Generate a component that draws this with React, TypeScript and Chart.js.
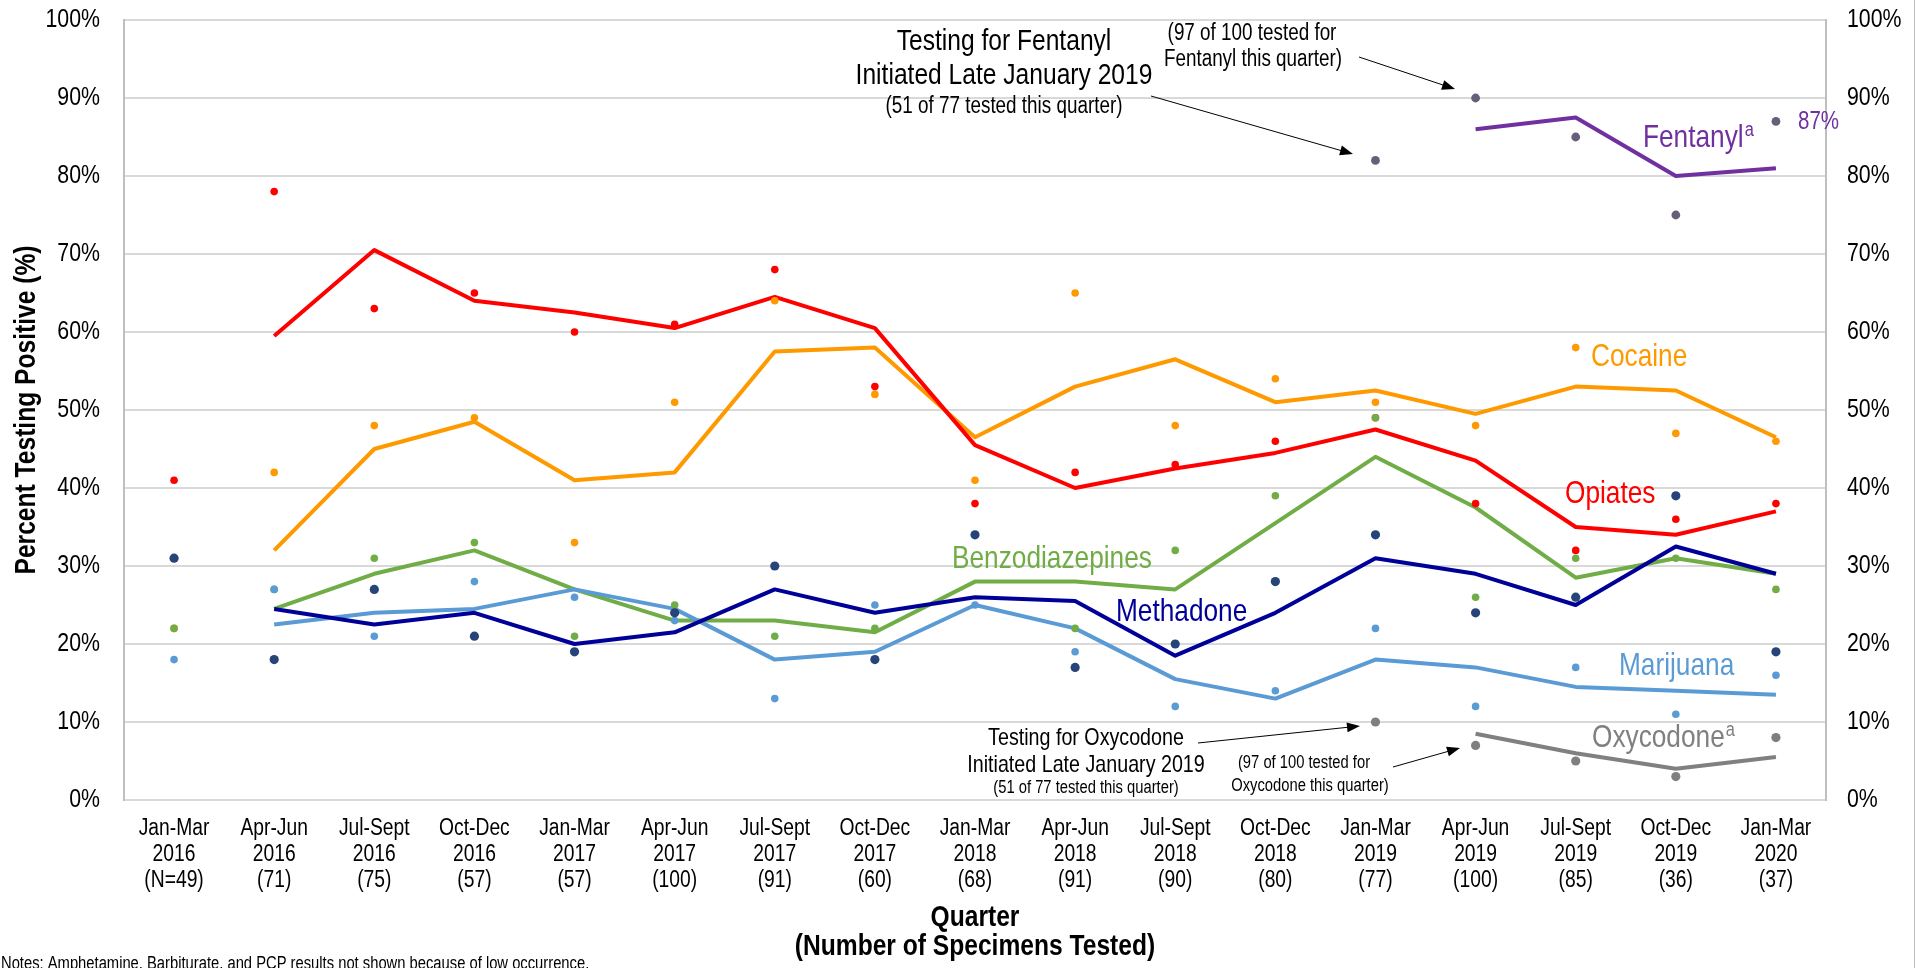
import React, { useEffect, useRef } from "react";
import { Chart, registerables } from "chart.js";

Chart.register(...registerables);

// ---------- DATA ----------
const quarterNames = ["Jan-Mar", "Apr-Jun", "Jul-Sept", "Oct-Dec", "Jan-Mar", "Apr-Jun", "Jul-Sept", "Oct-Dec", "Jan-Mar", "Apr-Jun", "Jul-Sept", "Oct-Dec", "Jan-Mar", "Apr-Jun", "Jul-Sept", "Oct-Dec", "Jan-Mar"];
const quarterYears = ["2016", "2016", "2016", "2016", "2017", "2017", "2017", "2017", "2018", "2018", "2018", "2018", "2019", "2019", "2019", "2019", "2020"];
const specimenCounts = ["(N=49)", "(71)", "(75)", "(57)", "(57)", "(100)", "(91)", "(60)", "(68)", "(91)", "(90)", "(80)", "(77)", "(100)", "(85)", "(36)", "(37)"];
const yTickValues = [0, 10, 20, 30, 40, 50, 60, 70, 80, 90, 100];

const opiatesPts = [41, 78, 63, 65, 60, 61, 68, 53, 38, 42, 43, 46, 49, 38, 32, 36, 38];
const opiatesAvg = [null, 59.5, 70.5, 64, 62.5, 60.5, 64.5, 60.5, 45.5, 40, 42.5, 44.5, 47.5, 43.5, 35, 34, 37];
const cocainePts = [22, 42, 48, 49, 33, 51, 64, 52, 41, 65, 48, 54, 51, 48, 58, 47, 46];
const cocaineAvg = [null, 32, 45, 48.5, 41, 42, 57.5, 58, 46.5, 53, 56.5, 51, 52.5, 49.5, 53, 52.5, 46.5];
const benzoPts = [22, 27, 31, 33, 21, 25, 21, 22, 34, 22, 32, 39, 49, 26, 31, 31, 27];
const benzoAvg = [null, 24.5, 29, 32, 27, 23, 23, 21.5, 28, 28, 27, 35.5, 44, 37.5, 28.5, 31, 29];
const methadonePts = [31, 18, 27, 21, 19, 24, 30, 18, 34, 17, 20, 28, 34, 24, 26, 39, 19];
const methadoneAvg = [null, 24.5, 22.5, 24, 20, 21.5, 27, 24, 26, 25.5, 18.5, 24, 31, 29, 25, 32.5, 29];
const marijuanaPts = [18, 27, 21, 28, 26, 23, 13, 25, 25, 19, 12, 14, 22, 12, 17, 11, 16];
const marijuanaAvg = [null, 22.5, 24, 24.5, 27, 24.5, 18, 19, 25, 22, 15.5, 13, 18, 17, 14.5, 14, 13.5];
const fentanylPts = [null, null, null, null, null, null, null, null, null, null, null, null, 82, 90, 85, 75, 87];
const fentanylAvg = [null, null, null, null, null, null, null, null, null, null, null, null, null, 86, 87.5, 80, 81];
const oxycodonePts = [null, null, null, null, null, null, null, null, null, null, null, null, 10, 7, 5, 3, 8];
const oxycodoneAvg = [null, null, null, null, null, null, null, null, null, null, null, null, null, 8.5, 6, 4, 5.5];

const FONT = "'Liberation Sans', Arial, sans-serif";
const SQ = 0.82;

function txt(ctx: CanvasRenderingContext2D, s: string, x: number, y: number, size: number, color: string, align: CanvasTextAlign = "center", bold = false, rotate = false) {
  ctx.save();
  ctx.font = `${bold ? "bold " : ""}${size}px ${FONT}`;
  ctx.fillStyle = color;
  ctx.textAlign = align;
  ctx.textBaseline = "middle";
  ctx.translate(x, y);
  if (rotate) ctx.rotate(-Math.PI / 2);
  ctx.scale(SQ, 1);
  ctx.fillText(s, 0, 0);
  const w = ctx.measureText(s).width * SQ;
  ctx.restore();
  return w;
}

function arrow(ctx: CanvasRenderingContext2D, x1: number, y1: number, x2: number, y2: number) {
  ctx.save();
  ctx.strokeStyle = "#000";
  ctx.fillStyle = "#000";
  ctx.lineWidth = 1;
  const a = Math.atan2(y2 - y1, x2 - x1);
  const L = 13, H = 5;
  ctx.beginPath();
  ctx.moveTo(x1, y1);
  ctx.lineTo(x2 - Math.cos(a) * L * 0.8, y2 - Math.sin(a) * L * 0.8);
  ctx.stroke();
  ctx.beginPath();
  ctx.moveTo(x2, y2);
  ctx.lineTo(x2 - Math.cos(a) * L - Math.sin(a) * H, y2 - Math.sin(a) * L + Math.cos(a) * H);
  ctx.lineTo(x2 - Math.cos(a) * L + Math.sin(a) * H, y2 - Math.sin(a) * L - Math.cos(a) * H);
  ctx.closePath();
  ctx.fill();
  ctx.restore();
}

const textPlugin = {
  id: "texts",
  afterDraw(chart: any) {
    const ctx: CanvasRenderingContext2D = chart.ctx;
    const xs = chart.scales.x;
    const ys = chart.scales.y;
    const area = chart.chartArea;
    // y tick labels
    yTickValues.forEach((v) => {
      const y = ys.getPixelForValue(v);
      txt(ctx, `${v}%`, area.left - 24, y, 26, "#000", "right");
      txt(ctx, `${v}%`, area.right + 21, y, 26, "#000", "left");
    });
    // x tick labels
    quarterNames.forEach((q, i) => {
      const x = xs.getPixelForValue(i);
      txt(ctx, q, x, area.bottom + 29, 23.5, "#000");
      txt(ctx, quarterYears[i], x, area.bottom + 55, 23.5, "#000");
      txt(ctx, specimenCounts[i], x, area.bottom + 81, 23.5, "#000");
    });
    // axis titles
    const cx = (area.left + area.right) / 2;
    txt(ctx, "Quarter", cx, 918, 30, "#000", "center", true);
    txt(ctx, "(Number of Specimens Tested)", cx, 947, 30, "#000", "center", true);
    txt(ctx, "Percent Testing Positive (%)", 27, (area.top + area.bottom) / 2, 30, "#000", "center", true, true);

    // series labels
    const fw = txt(ctx, "Fentanyl", 1643, 138, 32, "#7030a0", "left");
    txt(ctx, "a", 1643 + fw + 1, 130, 20, "#7030a0", "left");
    txt(ctx, "87%", 1798, 122, 25, "#7030a0", "left");
    txt(ctx, "Cocaine", 1591, 357, 32, "#ff9900", "left");
    txt(ctx, "Opiates", 1565, 494, 32, "#ff0000", "left");
    txt(ctx, "Benzodiazepines", 952, 559, 32, "#70ad47", "left");
    txt(ctx, "Methadone", 1116, 612, 32, "#000099", "left");
    txt(ctx, "Marijuana", 1619, 666, 32, "#5b9bd5", "left");
    const ow = txt(ctx, "Oxycodone", 1592, 738, 32, "#808080", "left");
    txt(ctx, "a", 1592 + ow + 1, 730, 20, "#808080", "left");

    // annotations
    txt(ctx, "Testing for Fentanyl", 1004, 42, 30, "#000");
    txt(ctx, "Initiated Late January 2019", 1004, 76, 30, "#000");
    txt(ctx, "(51 of 77 tested this quarter)", 1004, 107, 23, "#000");
    txt(ctx, "(97 of 100 tested for", 1252, 34, 23, "#000");
    txt(ctx, "Fentanyl this quarter)", 1253, 60, 23, "#000");
    arrow(ctx, 1151, 96, 1353, 154);
    arrow(ctx, 1359, 57, 1455, 89);

    txt(ctx, "Testing for Oxycodone", 1086, 738, 24, "#000");
    txt(ctx, "Initiated Late January 2019", 1086, 765, 24, "#000");
    txt(ctx, "(51 of 77 tested this quarter)", 1086, 788, 18, "#000");
    txt(ctx, "(97 of 100 tested for", 1304, 763, 18, "#000");
    txt(ctx, "Oxycodone this quarter)", 1310, 786, 18, "#000");
    arrow(ctx, 1198, 743, 1360, 726);
    arrow(ctx, 1393, 767, 1460, 748);

    txt(ctx, "Notes: Amphetamine, Barbiturate, and PCP results not shown because of low occurrence.", 1, 964, 18, "#000", "left");

    // outer frame line on right
    ctx.save();
    ctx.strokeStyle = "#bfbfbf";
    ctx.lineWidth = 1;
    ctx.beginPath();
    ctx.moveTo(1914.5, 0);
    ctx.lineTo(1914.5, 968);
    ctx.stroke();
    ctx.restore();
  },
};

function lineDs(label: string, data: (number | null)[], color: string, order: number, width = 4) {
  return {
    type: "line" as const,
    label,
    data,
    borderColor: color,
    backgroundColor: color,
    borderWidth: width,
    pointRadius: 0,
    tension: 0,
    spanGaps: false,
    borderJoinStyle: "round" as const,
    order,
  };
}

function dotDs(label: string, data: (number | null)[], color: string, radius: number, order: number) {
  return {
    type: "line" as const,
    label,
    data,
    showLine: false,
    borderColor: color,
    backgroundColor: color,
    pointBackgroundColor: color,
    pointBorderColor: color,
    pointBorderWidth: 0,
    pointRadius: radius,
    order,
  };
}

export default function App() {
  const ref = useRef<HTMLCanvasElement>(null);
  useEffect(() => {
    if (!ref.current) return;
    const chart = new Chart(ref.current, {
      type: "line",
      data: {
        labels: quarterNames.map((q, i) => `${q} ${quarterYears[i]}`),
        datasets: [
          lineDs("Opiates trend", opiatesAvg, "#ff0000", 40),
          lineDs("Cocaine trend", cocaineAvg, "#ff9900", 41),
          lineDs("Benzodiazepines trend", benzoAvg, "#70ad47", 39),
          lineDs("Marijuana trend", marijuanaAvg, "#5b9bd5", 38),
          lineDs("Methadone trend", methadoneAvg, "#000099", 37),
          lineDs("Fentanyl trend", fentanylAvg, "#7030a0", 36),
          lineDs("Oxycodone trend", oxycodoneAvg, "#808080", 35),
          dotDs("Opiates", opiatesPts, "#ff0000", 3.8, 20),
          dotDs("Cocaine", cocainePts, "#ff9900", 3.8, 21),
          dotDs("Benzodiazepines", benzoPts, "#70ad47", 3.8, 19),
          dotDs("Marijuana", marijuanaPts, "#5b9bd5", 3.8, 18),
          dotDs("Methadone", methadonePts, "#264478", 4.6, 17),
          dotDs("Fentanyl", fentanylPts, "#675f78", 4.4, 16),
          dotDs("Oxycodone", oxycodonePts, "#7f7f7f", 4.6, 15),
        ],
      },
      options: {
        animation: false,
        responsive: true,
        maintainAspectRatio: false,
        devicePixelRatio: 1,
        layout: { padding: { top: 20, left: 0, right: 0, bottom: 0 } },
        plugins: { legend: { display: false }, tooltip: { enabled: false }, title: { display: false } },
        scales: {
          x: {
            type: "category",
            offset: true,
            grid: { display: false, drawTicks: false },
            border: { display: false },
            ticks: { display: false },
            afterFit: (s: any) => { s.height = 168; },
          },
          y: {
            position: "left",
            min: 0,
            max: 100,
            ticks: { display: false, stepSize: 10 },
            grid: { color: "#d9d9d9", lineWidth: 2, drawTicks: false },
            border: { display: true, color: "#bfbfbf", width: 2 },
            afterFit: (s: any) => { s.width = 124; },
          },
          y2: {
            position: "right",
            min: 0,
            max: 100,
            ticks: { display: false, stepSize: 10 },
            grid: { display: false, drawTicks: false },
            border: { display: true, color: "#bfbfbf", width: 2 },
            afterFit: (s: any) => { s.width = 97; },
          },
        },
      } as any,
      plugins: [textPlugin],
    });
    return () => chart.destroy();
  }, []);
  return (
    <div style={{ position: "fixed", left: 0, top: 0, width: 1923, height: 968, background: "#fff" }}>
      <canvas ref={ref} />
    </div>
  );
}
